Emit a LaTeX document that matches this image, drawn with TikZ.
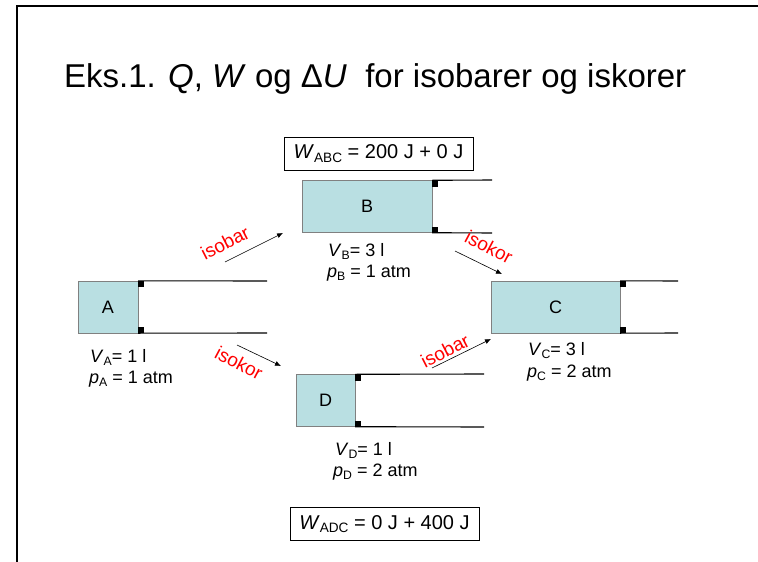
\documentclass[tikz,border=0pt]{standalone}
\usepackage{fontspec}
\setmainfont{Liberation Sans}
\usetikzlibrary{arrows.meta}
\definecolor{gasfill}{RGB}{185,223,226}
\newcommand\idx[1]{\raisebox{-0.35ex}{\scalebox{0.68}{#1}}}
\tikzset{
  gas/.style={draw=gray, fill=gasfill, minimum height=52pt, inner sep=0pt, font=\fontsize{18}{18}\selectfont},
  plug/.style={fill=black, minimum size=6pt, inner sep=0pt},
  wall/.style={line width=1.1pt},
  lab/.style={font=\fontsize{18}{18}\selectfont, anchor=base west, inner sep=0pt},
  proc/.style={red, font=\fontsize{19}{19}\selectfont, inner sep=0pt},
  arr/.style={-{Latex[length=6pt,width=5pt]}, line width=0.6pt},
  wbox/.style={draw, line width=0.8pt, minimum width=189pt, minimum height=33pt, inner sep=0pt, font=\fontsize{20}{20}\selectfont}
}
\begin{document}
\begin{tikzpicture}[x=1pt, y=-1pt]
\useasboundingbox (0,0) rectangle (758,562);
% frame
\draw[line width=2.2pt] (17,562) -- (17,6) -- (758,6);
\node[anchor=base west, inner sep=0pt, font=\fontsize{33}{33}\selectfont] (title) at (64,87)
  {Eks.1. \textit{Q}, \textit{W} og Δ\textit{U}\ \ for isobarer og iskorer};
% cylinders
\node[gas, minimum width=60pt] (A) at (108,307) {A};
\node[gas, minimum width=130pt] (B) at (367,206.5) {B};
\node[gas, minimum width=129pt] (C) at (555.5,307) {C};
\node[gas, minimum width=59pt] (D) at (325.5,400.5) {D};
\draw[wall] (A.north east) -- (267,281);
\draw[wall] (A.south east) -- (267,333);
\draw[wall] (B.north east) -- (492,180);
\draw[wall] (B.south east) -- (492,233);
\draw[wall] (C.north east) -- (678,281);
\draw[wall] (C.south east) -- (678,333);
\draw[wall] (D.north east) -- (484,374);
\draw[wall] (D.south east) -- (484,427);
\foreach \c in {A,B,C,D}{
  \node[plug, anchor=north west] (\c top) at (\c.north east) {};
  \node[plug, anchor=south west] (\c bot) at (\c.south east) {};
}
% states
\node[lab] (vA) at (90,362) {\textit{V}\idx{A}= 1 l};
\node[lab] (pA) at (89,383) {\textit{p}\idx{A} = 1 atm};
\node[lab] (vB) at (328,256) {\textit{V}\idx{B}= 3 l};
\node[lab] (pB) at (327,277) {\textit{p}\idx{B} = 1 atm};
\node[lab] (vC) at (528,355) {\textit{V}\idx{C}= 3 l};
\node[lab] (pC) at (527,377) {\textit{p}\idx{C} = 2 atm};
\node[lab] (vD) at (335,455) {\textit{V}\idx{D}= 1 l};
\node[lab] (pD) at (333,476) {\textit{p}\idx{D} = 2 atm};
% work
\node[wbox] (wabc) at (378.5,153.5) {\textit{W}\idx{ABC} = 200 J + 0 J};
\node[wbox] (wadc) at (384.5,524) {\textit{W}\idx{ADC} = 0 J + 400 J};
% processes
\coordinate (ab1) at (225,262);
\coordinate (ab2) at (283,233);
\coordinate (bc1) at (455,251);
\coordinate (bc2) at (502,274);
\coordinate (ad1) at (237,345);
\coordinate (ad2) at (281,366);
\coordinate (dc1) at (432,368);
\coordinate (dc2) at (491,339);
\draw[arr] (ab1) -- (ab2);
\draw[arr] (bc1) -- (bc2);
\draw[arr] (ad1) -- (ad2);
\draw[arr] (dc1) -- (dc2);
\node[proc, rotate=27] (isoab) at (225,243) {isobar};
\node[proc, rotate=-28] (isobc) at (489,247) {isokor};
\node[proc, rotate=-28] (isoad) at (239,363) {isokor};
\node[proc, rotate=27] (isodc) at (445,351) {isobar};
\end{tikzpicture}
\end{document}
